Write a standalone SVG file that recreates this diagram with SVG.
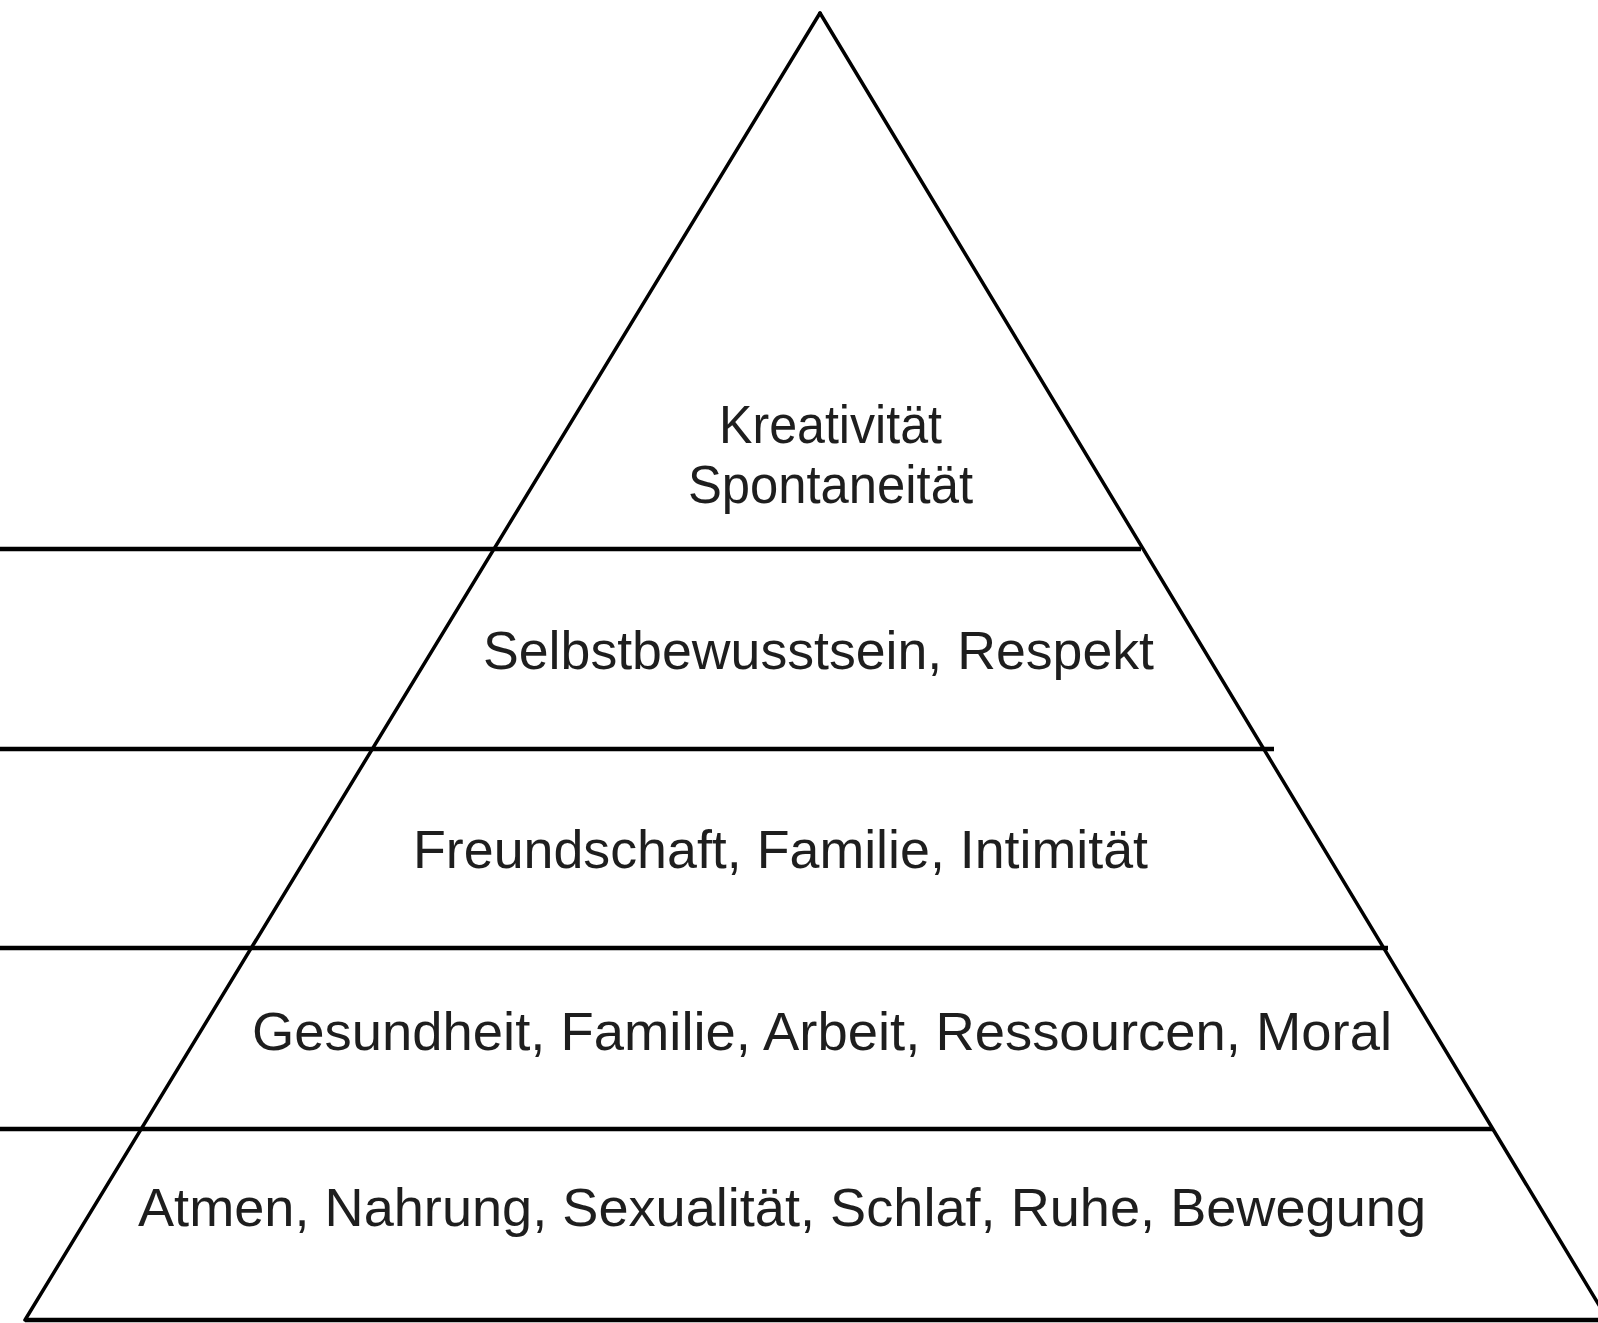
<svg xmlns="http://www.w3.org/2000/svg" width="1598" height="1323" viewBox="0 0 1598 1323">
  <style>
    .side { stroke: #000; stroke-width: 3.5; fill: none; stroke-linecap: round; }
    .bar { stroke: #000; stroke-width: 4.5; fill: none; }
    .lbl { font-family: "Liberation Sans", Arial, sans-serif; font-size: 53px; fill: #1e1e1e; }
  </style>
  <rect x="0" y="0" width="1598" height="1323" fill="#fff"/>
  <g id="pyramid-outline">
    <line class="side" x1="820" y1="13" x2="25" y2="1320"/>
    <line class="side" x1="820" y1="13" x2="1608" y2="1320"/>
  </g>
  <g id="dividers">
    <line class="bar" x1="0" y1="549" x2="1141" y2="549"/>
    <line class="bar" x1="0" y1="749" x2="1274" y2="749"/>
    <line class="bar" x1="0" y1="948" x2="1388" y2="948"/>
    <line class="bar" x1="0" y1="1129" x2="1493" y2="1129"/>
    <line class="bar" x1="25" y1="1320" x2="1598" y2="1320"/>
  </g>
  <g id="level5">
    <text class="lbl" x="719" y="443" textLength="223" lengthAdjust="spacingAndGlyphs">Kreativität</text>
    <text class="lbl" x="688" y="503" textLength="285" lengthAdjust="spacingAndGlyphs">Spontaneität</text>
  </g>
  <g id="level4">
    <text class="lbl" x="483" y="669" textLength="671" lengthAdjust="spacingAndGlyphs">Selbstbewusstsein, Respekt</text>
  </g>
  <g id="level3">
    <text class="lbl" x="413" y="868" textLength="735" lengthAdjust="spacingAndGlyphs">Freundschaft, Familie, Intimität</text>
  </g>
  <g id="level2">
    <text class="lbl" x="252" y="1050" textLength="1140" lengthAdjust="spacingAndGlyphs">Gesundheit, Familie, Arbeit, Ressourcen, Moral</text>
  </g>
  <g id="level1">
    <text class="lbl" x="138" y="1226" textLength="1288" lengthAdjust="spacingAndGlyphs">Atmen, Nahrung, Sexualität, Schlaf, Ruhe, Bewegung</text>
  </g>
</svg>
